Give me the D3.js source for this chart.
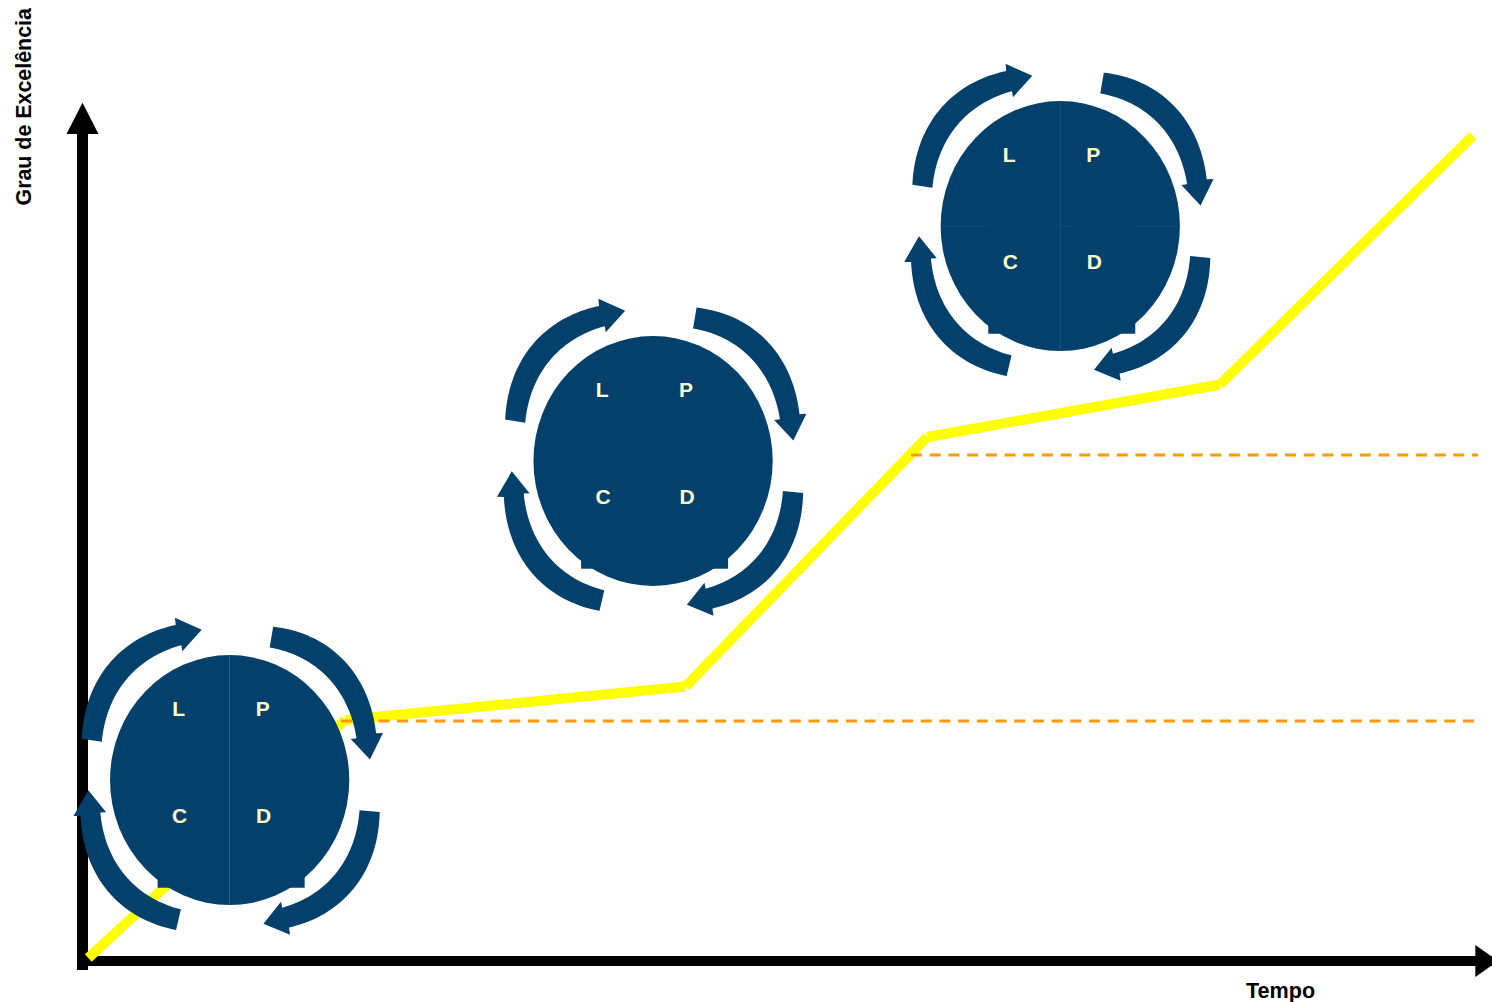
<!DOCTYPE html>
<html>
<head>
<meta charset="utf-8">
<script src="https://cdn.jsdelivr.net/npm/d3@7"></script>
<style>
    html, body { margin: 0; padding: 0; background: #fff; overflow: hidden; }
    svg { display: block; }
    text { font-family: "Liberation Sans", Arial, sans-serif; font-weight: bold; }
</style>
</head>
<body>
<div id="chart"></div>
<script>
// Excellence curve, percent of each axis
const curveTime = [0.41, 18.62, 42.78, 59.92, 80.70, 98.64];
const curveExcellence = [0.35, 28.15, 32.07, 61.21, 67.35, 96.41];

// Dashed plateau levels
const plateauLevel = [28.04, 59.11];
const plateauFrom = [18.34, 58.78];
const plateauTo = [98.72, 99.01];

// PDCA wheels
const wheelTime = [10.44, 40.48, 69.37];
const wheelExcellence = [21.14, 58.41, 85.86];
const wheelLabels = ["L", "P", "C", "D"];

// Cycle arrows, degrees clockwise from twelve o'clock
const arrowStart = [16.5, 101.5, 200.5, 285];
const arrowEnd = [73, 157.2, 257, 340];
const arrowLift = [0, 0, 0, 5];

const xLabel = "Tempo";
const yLabel = "Grau de Excelência";

const width = 1492, height = 1002;
const navy = "#03406c", yellow = "#ffff00", orange = "#ff9900", cream = "#ffffcc";

const svg = d3.select("#chart").append("svg")
    .attr("width", width)
    .attr("height", height);

const x = d3.scaleLinear().domain([0, 100]).range([82.5, 1492]);
const y = d3.scaleLinear().domain([0, 100]).range([961, 105]);

// Axes, no ticks at all. The y axis stops inside its arrow head
const yStem = y.copy().domain([0, y.invert(125)]).range([961, 125]);
const xAxis = d3.axisBottom(x).tickValues([]).tickSizeOuter(0);
const yAxis = d3.axisLeft(yStem).tickValues([]).tickSizeOuter(0);

svg.append("g")
    .attr("transform", "translate(0," + (y(0) - 0.5) + ")")
    .call(xAxis)
    .select(".domain").attr("stroke", "#000").attr("stroke-width", 10);

svg.append("g")
    .attr("transform", "translate(" + (x(0) - 0.5) + ",0)")
    .call(yAxis)
    .select(".domain").attr("stroke", "#000").attr("stroke-width", 11);

// stub of the y axis under the x axis, plus both arrow heads
svg.append("rect")
    .attr("x", x(0) - 5.5).attr("y", y(0))
    .attr("width", 11).attr("height", 9)
    .attr("fill", "#000");
svg.append("path")
    .attr("d", d3.line()([[x(0) - 16, 134], [x(0), 102.7], [x(0) + 16, 134]]) + "Z")
    .attr("fill", "#000");
svg.append("path")
    .attr("d", d3.line()([[1475.3, y(0) - 16], [1498, y(0)], [1475.3, y(0) + 16]]) + "Z")
    .attr("fill", "#000");

// Yellow curve, each piece is its own butt-ended line so the joints show the notch
const curve = curveTime.map((t, i) => [x(t), y(curveExcellence[i])]);
svg.append("g").selectAll("line")
    .data(d3.pairs(curve))
    .join("line")
    .attr("x1", d => d[0][0])
    .attr("y1", d => d[0][1])
    .attr("x2", d => d[1][0])
    .attr("y2", d => d[1][1])
    .attr("stroke", yellow)
    .attr("stroke-width", 10);

svg.append("g").selectAll("line")
    .data(plateauLevel)
    .join("line")
    .attr("x1", (d, i) => x(plateauFrom[i]))
    .attr("x2", (d, i) => x(plateauTo[i]))
    .attr("y1", d => y(d))
    .attr("y2", d => y(d))
    .attr("stroke", orange)
    .attr("stroke-width", 3)
    .attr("stroke-dasharray", "11 7.7");

svg.append("text")
    .attr("x", 1246).attr("y", 998)
    .attr("font-size", 21.6)
    .text(xLabel);
svg.append("text")
    .attr("transform", "translate(31,205.5) rotate(-90)")
    .attr("font-size", 21.4)
    .text(yLabel);

// One arrow of the cycle as a polygon in polar coordinates
const radial = d3.lineRadial()
    .angle(d => d[0] * Math.PI / 180)
    .radius(d => d[1])
    .curve(d3.curveLinearClosed);

function arrowPoints(start, end, lift) {
    const rOuter = 160, rInner = 139;
    // the arcs bulge away from the disc towards their middle
    const bulge = (k, b) => b * Math.sin(Math.PI * k / 40) + lift * k / 40;
    const outer = d3.range(0, 41).map(k => [start + (end - start) * k / 40, rOuter + bulge(k, 9)]);
    const inner = d3.range(40, -1, -1).map(k => [start + 1 + (end - 0.5 - start - 1) * k / 40, rInner + bulge(k, 6)]);
    const head = [[end + 0.6, 167 + lift], [end + 9, 148 + lift], [end - 1, 133 + lift]];
    return outer.concat(head, inner);
}

const seamV = ["#2f628b", null, "#1c527c"];
const seamH = [null, null, "#15496f"];
const seamHSpan = [[-119, -71], [-8, 11], [75, 119]];
const labelDx = [-51, 33, -50, 34];
const labelDy = [-64, -64, 43, 43];

wheelTime.forEach((t, i) => {
    const wheel = svg.append("g")
        .attr("transform", "translate(" + x(t) + "," + y(wheelExcellence[i]) + ")");

    // the artwork is slightly squeezed horizontally
    const shape = wheel.append("g").attr("transform", "scale(0.957,1)");

    shape.selectAll("path")
        .data(arrowStart)
        .join("path")
        .attr("d", (d, j) => radial(arrowPoints(d, arrowEnd[j], arrowLift[j])))
        .attr("fill", navy);

    shape.append("circle")
        .attr("r", 125)
        .attr("fill", navy);

    // square corners sticking out at the bottom of the disc
    wheel.append("rect")
        .attr("x", -72).attr("y", 60)
        .attr("width", 147).attr("height", 47.7)
        .attr("fill", navy);

    if (seamV[i]) {
        wheel.append("line")
            .attr("y1", -125).attr("y2", 125)
            .attr("stroke", seamV[i]);
    }
    if (seamH[i]) {
        wheel.selectAll(".seam")
            .data(seamHSpan)
            .join("line")
            .attr("class", "seam")
            .attr("x1", d => d[0])
            .attr("x2", d => d[1])
            .attr("stroke", seamH[i]);
    }

    wheel.selectAll("text")
        .data(wheelLabels)
        .join("text")
        .attr("x", (d, j) => labelDx[j])
        .attr("y", (d, j) => labelDy[j])
        .attr("text-anchor", "middle")
        .attr("font-size", 21)
        .attr("fill", cream)
        .text(d => d);
});
</script>
</body>
</html>
